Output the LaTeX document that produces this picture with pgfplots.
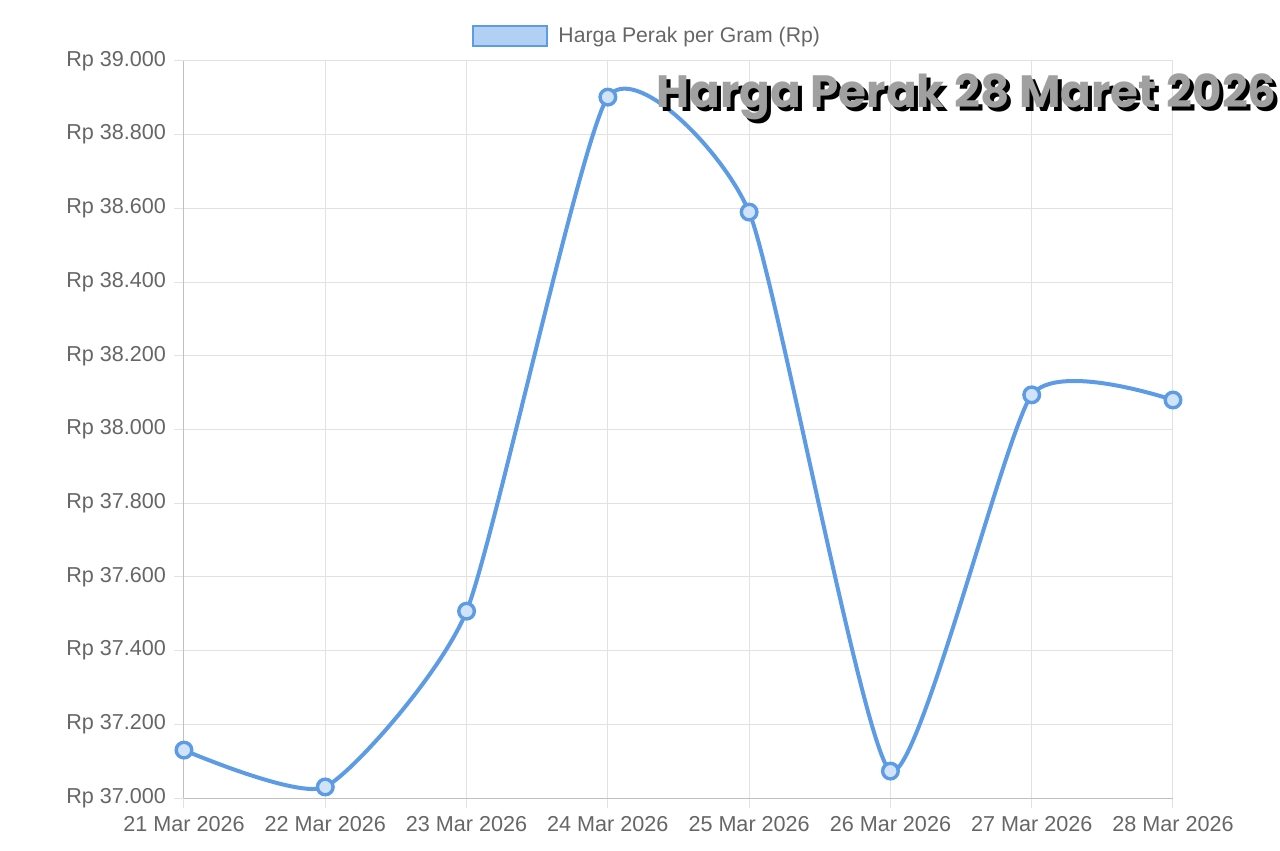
\documentclass[border=0pt]{standalone}
\usepackage{pgfplots}
\pgfplotsset{compat=1.18}
\usepackage{graphicx}
\usepackage{fontspec}
\setmainfont{Liberation Sans}
\definecolor{lineblue}{RGB}{93,156,228}
\definecolor{lightblue}{RGB}{178,208,244}
\definecolor{ticktext}{RGB}{102,102,102}
\definecolor{gridc}{RGB}{226,226,226}
\definecolor{titlegray}{RGB}{160,160,160}
\newcommand{\titletext}{Harga Perak 28 Maret 2026}
\begin{document}
\begin{tikzpicture}
\useasboundingbox (-92pt,-26.5pt) rectangle (548pt,399pt);
\begin{axis}[
  at={(0,0)}, anchor=south west,
  scale only axis, width=494.5pt, height=368.5pt,
  xmin=0, xmax=7, ymin=37000, ymax=39000,
  scaled y ticks=false,
  xtick={0,...,7},
  xticklabels={21 Mar 2026,22 Mar 2026,23 Mar 2026,24 Mar 2026,25 Mar 2026,26 Mar 2026,27 Mar 2026,28 Mar 2026},
  ytick={37000,37200,37400,37600,37800,38000,38200,38400,38600,38800,39000},
  yticklabels={Rp 37.000,Rp 37.200,Rp 37.400,Rp 37.600,Rp 37.800,Rp 38.000,Rp 38.200,Rp 38.400,Rp 38.600,Rp 38.800,Rp 39.000},
  tick label style={font=\fontsize{10.8}{12}\selectfont, text=ticktext},
  /pgf/number format/assume math mode=true,
  grid=major, major grid style={gridc, line width=0.5pt},
  axis line style={draw=gridc!85!black, line width=0.5pt},
  axis x line*=bottom, axis y line*=left,
  tick pos=left, tick align=outside, major tick length=5pt,
  tick style={gridc, line width=0.5pt},
  xticklabel style={yshift=-0.5pt},
  yticklabel style={xshift=-0.5pt},
  clip=false,
  legend style={at={(axis description cs:0.469,1.034)}, anchor=center, draw=none, fill=none,
    font=\fontsize{10.6}{12}\selectfont\color{ticktext}, legend cell align=left},
  legend image code/.code={\draw[draw=lineblue, fill=lightblue, line width=1.4pt] (-6pt,-5pt) rectangle (31pt,5pt);},
]
\addplot[lineblue, line width=2pt, smooth, tension=0.33,
  mark=*, mark size=3.9pt, mark options={draw=lineblue, fill=lightblue!60!white, line width=1.7pt}]
  coordinates {
  (0,37130) (1,37030) (2,37507) (3,38902) (4,38590) (5,37073) (6,38094) (7,38080)
  };
\addlegendentry{\hspace{3pt}Harga Perak per Gram (Rp)}
\end{axis}
\node at (391.3pt,349.7pt) {\resizebox{310pt}{!}{\fontspec{Poppins}\bfseries\rlap{\raisebox{-0.9pt}{\hspace{0.9pt}\color{black}\titletext}}\color{titlegray}\titletext}};
\end{tikzpicture}
\end{document}
